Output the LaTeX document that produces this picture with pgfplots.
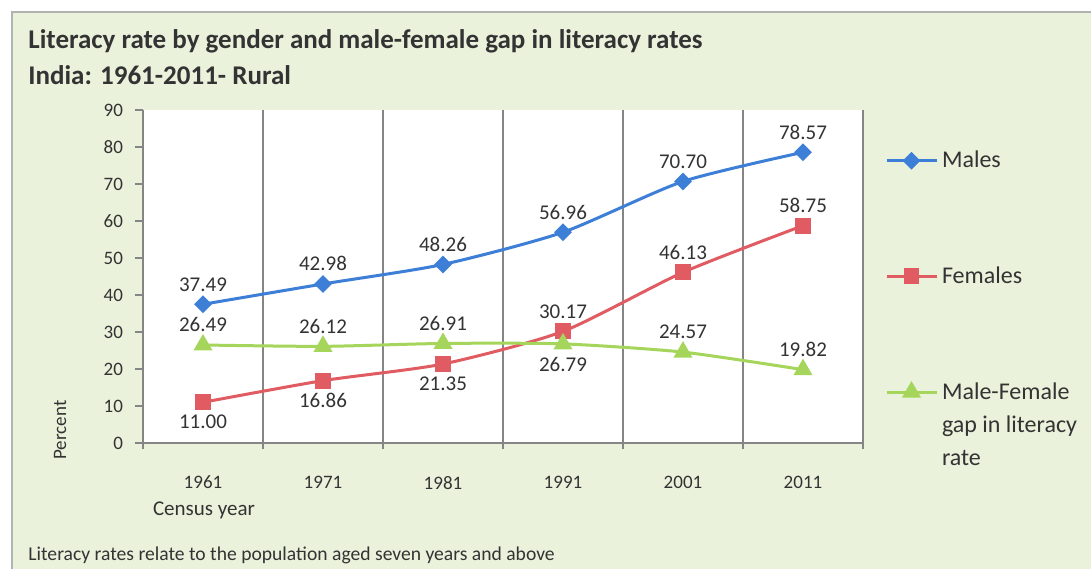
\documentclass[border=0pt]{standalone}
\usepackage{fontspec}
\setmainfont{Carlito}
\usepackage{pgfplots}
\pgfplotsset{compat=1.18}
\usepackage{pgfplotstable}

\definecolor{bg}{HTML}{EAF2DC}
\definecolor{mblue}{HTML}{3D7ED6}
\definecolor{fred}{HTML}{E05C62}
\definecolor{ggreen}{HTML}{A5D65B}
\definecolor{gridc}{HTML}{858585}
\definecolor{txt}{HTML}{333333}

\pgfplotstableread{
x y
0 37.49
1 42.98
2 48.26
3 56.96
4 70.70
5 78.57
}\males
\pgfplotstableread{
x y
0 11.00
1 16.86
2 21.35
3 30.17
4 46.13
5 58.75
}\females
\pgfplotstableread{
x y
0 26.49
1 26.12
2 26.91
3 26.79
4 24.57
5 19.82
}\gap

\pgfplotsset{
  vlabels/.style={draw=none, mark=none, forget plot,
    nodes near coords={\pgfmathprintnumber[fixed,fixed zerofill,precision=2]{\pgfplotspointmeta}},
    point meta=y},
  labove/.style={vlabels, every node near coord/.append style={anchor=south}},
  lbelow/.style={vlabels, every node near coord/.append style={anchor=north}},
}

\begin{document}
\begin{tikzpicture}
\useasboundingbox (0pt,0pt) rectangle (545.5pt,284.5pt);
\fill[white] (0pt,0pt) rectangle (545.5pt,284.5pt);
\fill[bg] (6pt,0pt) rectangle (545.5pt,278.5pt);
\draw[gray!60, line width=1pt] (6pt,0pt) -- (6pt,278.5pt) -- (545.5pt,278.5pt);

\node[anchor=base west, font=\bfseries\fontsize{13.5}{15}\selectfont, text=txt, inner sep=0pt] at (14pt,260pt) {Literacy rate by gender and male-female gap in literacy rates};
\node[anchor=base west, font=\bfseries\fontsize{13.5}{15}\selectfont, text=txt, inner sep=0pt] at (14pt,242pt) {India: 1961-2011- Rural};

\begin{axis}[
  at={(71.5pt,63pt)}, anchor=south west,
  scale only axis, width=360pt, height=166.5pt,
  xmin=-0.5, xmax=5.5, ymin=0, ymax=90,
  axis lines=left, axis line style={-, gridc, line width=0.6pt},
  axis background/.style={fill=white},
  xtick={0,...,5},
  xticklabels={1961,1971,1981,1991,2001,2011},
  minor xtick={-0.5,0.5,...,5.5},
  xminorgrids=true,
  minor grid style={gridc, line width=0.6pt},
  major x tick style={draw=none},
  minor x tick style={gridc, line width=0.6pt},
  ytick={0,10,...,90},
  y tick style={gridc, line width=0.6pt},
  tick align=outside,
  major tick length=4pt, minor tick length=3pt,
  ticklabel style={font=\fontsize{9.5}{11}\selectfont, text=txt},
  xticklabel style={yshift=-9pt},
  yticklabel style={xshift=-2.5pt},
  /pgf/number format/assume math mode=true,
  clip=false,
  every node near coord/.append style={font=\fontsize{10.5}{12}\selectfont, text=txt, inner sep=2pt, outer sep=4.5pt},
  legend style={at={(1.03,0.89)}, anchor=north west, draw=none, fill=none,
    inner sep=0pt, row sep=44pt, column sep=0pt,
    font=\fontsize{12}{16.5}\selectfont, text=txt, cells={anchor=base west}},
  legend image code/.code={\draw[mark repeat=2,mark phase=2,#1] plot coordinates {(0pt,3.5pt) (12.5pt,3.5pt) (25pt,3.5pt)};},
]
\addplot[mblue, line width=1.5pt, smooth, tension=0.4, mark=square*, mark size=2.4pt, mark options={solid, rotate=45}]
  table[x=x,y=y]{\males};
\addlegendentry{Males}
\addplot[fred, line width=1.5pt, smooth, tension=0.4, mark=square*, mark size=3.2pt, mark options={solid}]
  table[x=x,y=y]{\females};
\addlegendentry{Females}
\addplot[ggreen, line width=1.5pt, smooth, tension=0.4, mark=triangle*, mark size=4pt, mark options={solid}]
  table[x=x,y=y]{\gap};
\addlegendentry{\parbox[t]{80pt}{\raggedright Male-Female\\gap in literacy\\rate}}

\addplot[labove] table[x=x,y=y]{\males};
\addplot[lbelow, skip coords between index={3}{6}] table[x=x,y=y]{\females};
\addplot[labove, skip coords between index={0}{3}] table[x=x,y=y]{\females};
\addplot[labove, skip coords between index={3}{4}] table[x=x,y=y]{\gap};
\addplot[lbelow, skip coords between index={0}{3}, skip coords between index={4}{6}] table[x=x,y=y]{\gap};
\end{axis}

\node[font=\fontsize{10.5}{12}\selectfont, text=txt] at (102pt,29.5pt) {Census year};
\node[font=\fontsize{9.5}{11}\selectfont, text=txt, rotate=90] at (30pt,69.5pt) {Percent};
\node[anchor=base west, font=\fontsize{9.8}{11}\selectfont, text=txt, inner sep=0pt] at (14pt,4.5pt) {Literacy rates relate to the population aged seven years and above};
\end{tikzpicture}
\end{document}
